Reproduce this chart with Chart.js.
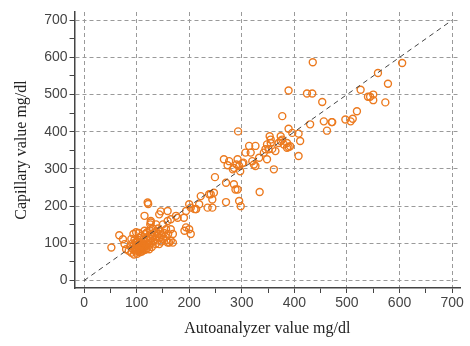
<!DOCTYPE html>
<html>
<head>
<meta charset="utf-8">
<script src="https://cdn.jsdelivr.net/npm/chart.js@4"></script>
<style>
  html, body { margin: 0; padding: 0; background: #fff; }
  #wrap { width: 470px; height: 346px; }
</style>
</head>
<body>
<div id="wrap"><canvas id="chart" width="470" height="346"></canvas></div>
<script>
// autoanalyzer (x) vs capillary (y), mg/dl
const autoValues = [
  605, 559, 578, 526, 540, 544, 550, 550, 573, 519, 497, 507, 511, 471, 435, 389,
  424, 434, 453, 377, 456, 472, 430, 462, 389, 396, 408, 411, 392, 374, 374, 380,
  386, 355, 348, 345, 408, 293, 353, 377, 370, 386, 389, 355, 351, 364, 342, 314,
  326, 317, 333, 348, 320, 323, 326, 361, 292, 301, 290, 295, 266, 273, 285, 249,
  270, 285, 288, 292, 241, 244, 334, 270, 295, 298, 235, 244, 222, 219, 200, 213,
  307, 358, 303, 297, 276, 283,
  52, 67, 77, 80, 74, 121, 122, 146, 159, 175, 178, 190, 194, 200, 191, 203,
  194, 203, 210, 213, 238, 247, 165, 169, 162, 159, 165, 127, 137, 150, 156, 165,
  169, 115, 115, 143, 143, 159, 127, 126,
  85, 88, 90, 92, 93, 95, 96, 97, 98, 99, 100, 100, 101, 102, 103, 104,
  105, 105, 106, 107, 108, 108, 109, 110, 110, 111, 112, 113, 114, 115, 116, 117,
  118, 119, 120, 120, 121, 122, 123, 124, 125, 126, 127, 128, 129, 130, 131, 132,
  133, 135, 136, 137, 138, 140, 141, 142, 144, 145, 147, 148, 150, 152, 155, 157,
  160, 95, 98, 103, 106, 112, 118, 124, 90, 94, 99, 104,
  97, 101, 104, 107, 109, 111, 100, 105, 113, 96
];
const capillaryValues = [
  585, 558, 529, 513, 494, 494, 500, 485, 479, 455, 433, 428, 435, 426, 587, 511,
  503, 503, 480, 442, 428, 426, 420, 403, 408, 397, 395, 375, 361, 388, 375, 366,
  357, 379, 366, 353, 335, 401, 388, 379, 370, 370, 359, 370, 353, 348, 344, 362,
  362, 344, 330, 326, 321, 312, 308, 299, 326, 315, 312, 308, 326, 310, 303, 278,
  263, 259, 245, 245, 232, 218, 238, 211, 214, 200, 196, 196, 227, 205, 205, 192,
  344, 354, 317, 294, 321, 299,
  89, 122, 98, 84, 111, 210, 206, 186, 187, 174, 169, 169, 143, 138, 134, 125,
  187, 196, 192, 192, 232, 236, 107, 102, 102, 160, 165, 156, 151, 151, 138, 138,
  125, 174, 134, 178, 98, 102, 160, 151,
  80, 92, 75, 100, 85, 70, 110, 90, 78, 95, 85, 105, 72, 92, 80, 100,
  88, 115, 76, 95, 84, 105, 120, 90, 78, 100, 86, 110, 95, 82, 125, 104,
  92, 115, 100, 130, 88, 108, 120, 96, 135, 112, 102, 125, 90, 118, 140, 105,
  128, 112, 98, 132, 120, 108, 140, 125, 115, 132, 105, 122, 112, 128, 118, 108,
  125, 95, 102, 98, 82, 96, 84, 84, 112, 125, 130, 128,
  88, 94, 90, 86, 98, 92, 102, 80, 90, 84
];
const identityLine = [0, 700];
const tickValues = [0, 50, 100, 150, 200, 250, 300, 350, 400, 450, 500, 550, 600, 650, 700];

const points = autoValues.map((v, i) => ({ x: v, y: capillaryValues[i] }));
const diagonal = identityLine.map((v) => ({ x: v, y: v }));

function axis(min, max, titleText) {
  return {
    type: "linear",
    min: min,
    max: max,
    afterBuildTicks: (scale) => {
      scale.ticks = tickValues.map((v) => ({ value: v }));
    },
    ticks: {
      color: "#444",
      font: { family: "Liberation Sans", size: 14 },
      padding: 2,
      autoSkip: false,
      maxRotation: 0,
      callback: (v) => (v % 100 === 0 ? v : ""),
    },
    grid: {
      color: (ctx) =>
        ctx.tick && ctx.tick.value % 100 === 0 ? "#9a9a9a" : "rgba(0,0,0,0)",
      lineWidth: 1,
      tickColor: "#444",
      tickLength: 5,
    },
    border: { color: "#444", width: 1.5, dash: [4, 3] },
    title: {
      display: true,
      text: titleText,
      color: "#222",
      font: { family: "Liberation Serif", size: 16 },
    },
  };
}

const xAxis = axis(-18, 715, "Autoanalyzer value mg/dl");
xAxis.title.padding = { top: 5, bottom: 0 };
const yAxis = axis(-20, 722, "Capillary value mg/dl");
yAxis.title.padding = { top: 0, bottom: 11 };

new Chart(document.getElementById("chart"), {
  type: "scatter",
  data: {
    datasets: [
      {
        data: diagonal,
        showLine: true,
        borderColor: "#444",
        borderWidth: 1,
        borderDash: [5, 4],
        pointRadius: 0,
        order: 1,
      },
      {
        data: points,
        pointRadius: 3.5,
        pointBorderWidth: 1.4,
        borderColor: "#ec7a1f",
        backgroundColor: "rgba(255,255,255,0)",
        order: 2,
      },
    ],
  },
  options: {
    responsive: false,
    animation: false,
    layout: { padding: { left: 12, right: 10, top: 12, bottom: 8 } },
    plugins: { legend: { display: false }, tooltip: { enabled: false } },
    scales: { x: xAxis, y: yAxis },
  },
});
</script>
</body>
</html>
